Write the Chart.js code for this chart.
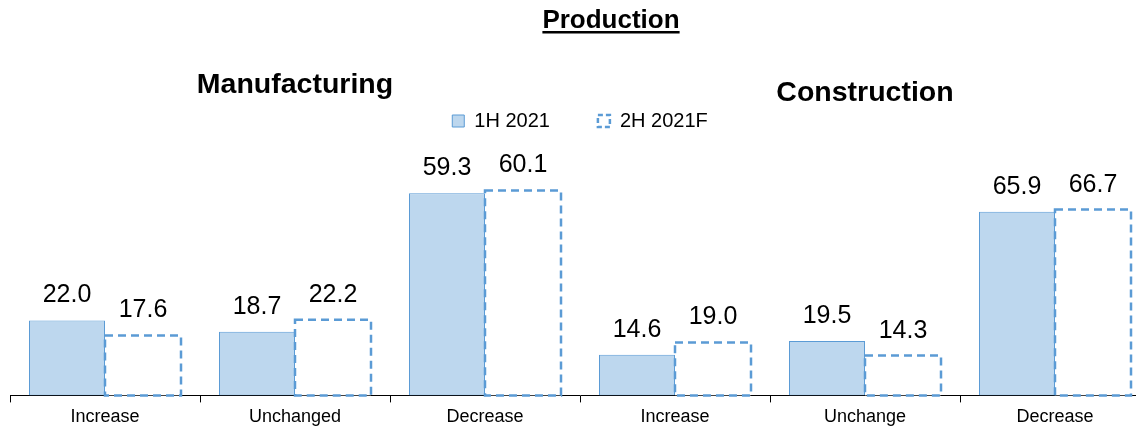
<!DOCTYPE html>
<html>
<head>
<meta charset="utf-8">
<script src="https://cdn.jsdelivr.net/npm/chart.js@4"></script>
<style>
  html, body { margin: 0; padding: 0; background: #fff; overflow: hidden; }
</style>
</head>
<body>
<canvas id="chart" width="1150" height="432"></canvas>
<script>
const categories = ['Increase', 'Unchanged', 'Decrease', 'Increase', 'Unchange', 'Decrease'];
const seriesNames = ['1H 2021', '2H 2021F'];
const mfg1H = [22.0, 18.7, 59.3, null, null, null];
const mfg2H = [17.6, 22.2, 60.1, null, null, null];
const con1H = [null, null, null, 14.6, 19.5, 65.9];
const con2H = [null, null, null, 19.0, 14.3, 66.7];
const panelTitles = ['Manufacturing', 'Construction'];
const chartTitle = 'Production';

const FONT = "'Liberation Sans', Arial, sans-serif";
const BLUE = '#5B9BD5';
const FILL = '#BDD7EE';

Chart.defaults.font.family = FONT;
Chart.defaults.color = '#000';

// draws the dashed forecast bars, value labels and the headings
const decorations = {
  id: 'decorations',
  afterDatasetsDraw(chart) {
    const ctx = chart.ctx;
    ctx.save();
    [1, 3].forEach(i => {
      const ds = chart.data.datasets[i];
      chart.getDatasetMeta(i).data.forEach((bar, j) => {
        if (ds.data[j] == null) return;
        ctx.setLineDash([8, 5]);
        ctx.lineWidth = 2.5;
        ctx.strokeStyle = BLUE;
        ctx.strokeRect(bar.x - bar.width / 2, bar.y, bar.width, bar.base - bar.y);
      });
    });
    ctx.setLineDash([]);
    ctx.fillStyle = '#000';
    ctx.font = `25px ${FONT}`;
    ctx.textAlign = 'center';
    ctx.textBaseline = 'alphabetic';
    chart.data.datasets.forEach((ds, i) => {
      chart.getDatasetMeta(i).data.forEach((bar, j) => {
        if (ds.data[j] == null) return;
        ctx.fillText(ds.data[j].toFixed(1), bar.x, bar.y - 18);
      });
    });
    ctx.restore();
  },
  afterDraw(chart) {
    const ctx = chart.ctx;
    const x = chart.scales.x;
    ctx.save();
    ctx.fillStyle = '#000';
    ctx.textAlign = 'center';
    ctx.textBaseline = 'alphabetic';
    ctx.font = `bold 26px ${FONT}`;
    ctx.fillText(chartTitle, 611, 28);
    const w = ctx.measureText(chartTitle).width;
    ctx.fillRect(611 - w / 2, 31, w, 2.5);
    ctx.font = `bold 28.5px ${FONT}`;
    ctx.fillText(panelTitles[0], x.getPixelForValue(1), 93);
    ctx.fillText(panelTitles[1], x.getPixelForValue(4), 101);
    ctx.restore();
  }
};

const solid = { backgroundColor: FILL, borderColor: BLUE, borderWidth: 1, borderSkipped: false };
const dashed = { backgroundColor: '#fff', borderColor: BLUE, borderWidth: 0 };

new Chart(document.getElementById('chart'), {
  type: 'bar',
  data: {
    labels: categories,
    datasets: [
      { label: seriesNames[0], data: mfg1H, yAxisID: 'y', ...solid },
      { label: seriesNames[1], data: mfg2H, yAxisID: 'y', ...dashed },
      { label: seriesNames[0], data: con1H, yAxisID: 'y2', ...solid },
      { label: seriesNames[1], data: con2H, yAxisID: 'y2', ...dashed }
    ]
  },
  options: {
    responsive: false,
    animation: false,
    skipNull: true,
    categoryPercentage: 0.8,
    barPercentage: 1.0,
    layout: { padding: { top: 63, left: 10, right: 0, bottom: 0 } },
    plugins: {
      tooltip: { enabled: false },
      legend: {
        display: true,
        position: 'top',
        labels: {
          font: { size: 20 },
          boxWidth: 12,
          boxHeight: 12,
          padding: 48,
          filter: item => item.datasetIndex < 2,
          generateLabels(chart) {
            return [0, 1].map(i => ({
              text: seriesNames[i],
              datasetIndex: i,
              fillStyle: i === 0 ? FILL : '#fff',
              strokeStyle: BLUE,
              lineWidth: i === 0 ? 1 : 2.5,
              lineDash: i === 0 ? [] : [5, 3],
              fontColor: '#000',
              hidden: false
            }));
          }
        }
      }
    },
    scales: {
      x: {
        grid: { display: true, drawOnChartArea: false, drawTicks: true, tickLength: 7, color: '#000' },
        border: { display: true, color: '#000', width: 1 },
        ticks: { font: { size: 18 }, padding: 4, maxRotation: 0 }
      },
      y: { display: false, min: 0, max: 74.6 },
      y2: { display: false, min: 0, max: 91.3 }
    }
  },
  plugins: [decorations]
});
</script>
</body>
</html>
